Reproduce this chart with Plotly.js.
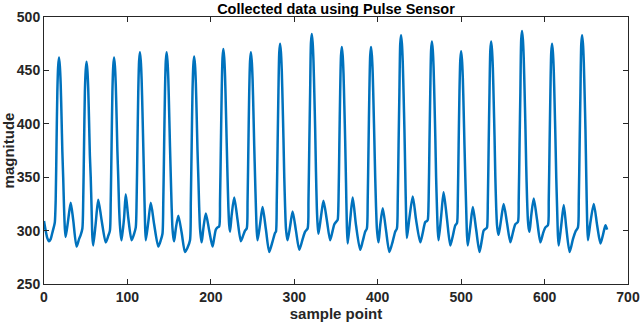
<!DOCTYPE html>
<html>
<head>
<meta charset="utf-8">
<script src="https://cdn.plot.ly/plotly-3.0.1.min.js"></script>
<style>
  html, body { margin: 0; padding: 0; background: #fff; }
  #plot { width: 640px; height: 326px; }
</style>
</head>
<body>
<div id="plot"></div>
<script>
// pulse sensor readings (one line per beat)
var sampleIdx = [
    0, 2, 4, 6, 8, 10, 12, 13,
    14, 15, 16, 17, 18, 19, 20, 21, 22, 23, 24, 25, 26, 29, 32, 35, 39, 42, 44, 46,
    47, 48, 49, 50, 51, 52, 53, 54, 55, 56, 57, 58, 59, 62, 65, 69, 74, 77, 79,
    80, 81, 82, 83, 84, 85, 86, 87, 88, 89, 90, 91, 92, 93, 96, 98, 101, 105, 108, 110,
    111, 112, 113, 114, 115, 116, 117, 118, 119, 120, 121, 122, 125, 128, 132, 137, 140, 142,
    143, 144, 145, 146, 147, 148, 149, 150, 151, 152, 153, 154, 155, 156, 158, 161, 165, 169, 172, 175,
    176, 177, 178, 179, 180, 181, 182, 183, 184, 185, 186, 187, 188, 189, 191, 194, 198, 202, 204, 206, 208, 210,
    211, 212, 213, 214, 215, 216, 217, 218, 219, 220, 221, 222, 223, 225, 228, 232, 236, 239, 241, 243,
    244, 245, 246, 247, 248, 249, 250, 251, 252, 253, 254, 255, 256, 259, 262, 266, 270, 274, 277, 278,
    279, 280, 281, 282, 283, 284, 285, 286, 287, 288, 289, 290, 291, 292, 295, 298, 302, 306, 310, 313, 316,
    317, 318, 319, 320, 321, 322, 323, 324, 325, 326, 327, 328, 329, 332, 335, 339, 343, 346, 348, 351, 352,
    353, 354, 355, 356, 357, 358, 359, 360, 361, 362, 363, 364, 367, 370, 374, 379, 382, 385, 387,
    388, 389, 390, 391, 392, 393, 394, 395, 396, 397, 398, 399, 400, 401, 403, 406, 410, 414, 418, 421, 423,
    424, 425, 426, 427, 428, 429, 430, 431, 432, 433, 434, 435, 438, 442, 446, 451, 454, 457, 459, 460,
    461, 462, 463, 464, 465, 466, 467, 468, 469, 470, 471, 472, 473, 476, 479, 483, 487, 490, 493, 495,
    496, 497, 498, 499, 500, 501, 502, 503, 504, 505, 506, 507, 508, 511, 514, 518, 522, 525, 527, 530, 531,
    532, 533, 534, 535, 536, 537, 538, 539, 540, 541, 542, 543, 544, 545, 548, 551, 555, 559, 562, 565, 568,
    569, 570, 571, 572, 573, 574, 575, 576, 577, 578, 579, 580, 581, 582, 584, 587, 591, 595, 598, 601, 604,
    605, 606, 607, 608, 609, 610, 611, 612, 613, 614, 615, 616, 617, 620, 623, 626, 630, 634, 637, 640,
    641, 642, 643, 644, 645, 646, 647, 648, 649, 650, 651, 652, 655, 659, 663, 667, 670, 673, 675
];
var magnitude = [
    309, 300, 293, 290, 292, 298, 304, 308,
    328, 380, 430, 454, 462, 454, 437, 407, 374, 350, 322, 302, 294, 310, 326, 310, 285, 292, 296, 302,
    328, 380, 430, 450, 458, 450, 433, 403, 370, 350, 322, 294, 286, 307, 329, 310, 289, 295, 300,
    328, 380, 430, 454, 462, 454, 437, 407, 374, 350, 322, 305, 296, 291, 312, 334, 312, 291, 297, 303,
    328, 380, 430, 459, 467, 459, 442, 412, 379, 345, 310, 291, 308, 326, 306, 285, 291, 297,
    328, 380, 430, 459, 467, 459, 442, 412, 379, 350, 322, 302, 294, 290, 302, 314, 298, 280, 284, 291,
    328, 380, 430, 455, 463, 455, 438, 408, 375, 350, 322, 302, 294, 289, 302, 316, 300, 285, 293, 301, 303, 304,
    328, 380, 430, 462, 470, 462, 445, 415, 382, 350, 322, 305, 299, 315, 331, 310, 290, 296, 300, 302,
    328, 380, 430, 459, 467, 459, 442, 412, 379, 350, 322, 300, 291, 306, 322, 301, 280, 290, 298, 299,
    328, 380, 430, 467, 475, 467, 450, 420, 387, 350, 322, 302, 295, 291, 304, 318, 300, 282, 292, 299, 302,
    328, 380, 430, 476, 484, 476, 459, 429, 396, 355, 322, 305, 297, 313, 328, 310, 291, 300, 306, 309, 310,
    328, 380, 430, 464, 472, 464, 447, 417, 384, 345, 305, 288, 310, 331, 305, 282, 290, 299, 302,
    328, 380, 430, 464, 472, 464, 447, 417, 384, 350, 322, 302, 294, 289, 305, 321, 300, 280, 290, 299, 302,
    328, 380, 430, 475, 483, 475, 458, 428, 395, 355, 315, 293, 312, 332, 310, 289, 298, 308, 309, 310,
    328, 380, 430, 469, 477, 469, 452, 422, 389, 350, 322, 300, 291, 313, 336, 311, 286, 295, 305, 307,
    328, 380, 430, 460, 468, 460, 443, 413, 380, 350, 322, 296, 286, 304, 322, 301, 280, 292, 300, 302, 303,
    328, 380, 430, 469, 477, 469, 452, 422, 389, 350, 322, 305, 299, 296, 311, 325, 307, 289, 298, 306, 308,
    328, 380, 430, 479, 487, 479, 462, 432, 399, 360, 330, 310, 302, 299, 314, 330, 310, 289, 297, 303, 305,
    328, 380, 430, 467, 475, 467, 450, 420, 387, 350, 322, 296, 286, 305, 324, 303, 280, 292, 299, 303,
    328, 380, 430, 475, 483, 475, 458, 428, 395, 350, 310, 291, 308, 325, 305, 288, 296, 305, 301
];

var xTicks = [0, 100, 200, 300, 400, 500, 600, 700];
var yTicks = [250, 300, 350, 400, 450, 500];

var textColor = '#262626';
var fontFam = '"Liberation Sans", Arial, Helvetica, sans-serif';

var trace = {
    x: sampleIdx,
    y: magnitude,
    type: 'scatter',
    mode: 'lines',
    line: {color: '#0072BD', width: 2.5, shape: 'spline', smoothing: 0.7},
    hoverinfo: 'skip'
};

var axisCommon = {
    showgrid: false,
    zeroline: false,
    showline: true,
    linecolor: textColor,
    linewidth: 1,
    mirror: 'ticks',
    ticks: 'inside',
    ticklen: 5,
    tickcolor: textColor,
    tickfont: {family: fontFam, size: 14, color: textColor, weight: 'bold'}
};

var layout = {
    width: 640,
    height: 326,
    margin: {l: 44, r: 12, t: 17, b: 42},
    paper_bgcolor: '#fff',
    plot_bgcolor: '#fff',
    showlegend: false,
    title: {
        text: '<b>Collected data using Pulse Sensor</b>',
        font: {family: fontFam, size: 14.5, color: '#000'},
        x: 0.525, xanchor: 'center',
        y: 0.973, yanchor: 'middle'
    },
    xaxis: Object.assign({}, axisCommon, {
        range: [0, 700],
        tickvals: xTicks,
        title: {text: '<b>sample point</b>', font: {family: fontFam, size: 15, color: textColor}, standoff: 3}
    }),
    yaxis: Object.assign({}, axisCommon, {
        range: [250, 500],
        tickvals: yTicks,
        title: {text: '<b>magnitude</b>', font: {family: fontFam, size: 15, color: textColor}, standoff: 1}
    })
};

Plotly.newPlot('plot', [trace], layout, {displayModeBar: false, staticPlot: true});
</script>
</body>
</html>
